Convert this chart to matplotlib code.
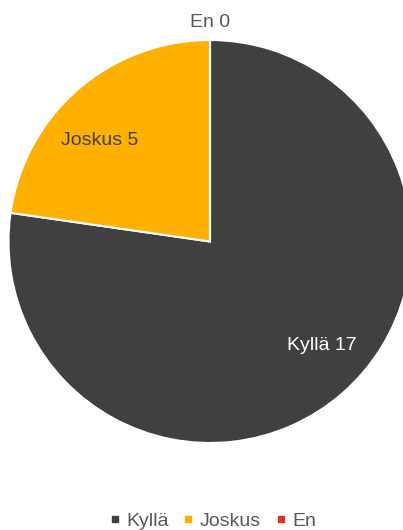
import matplotlib
matplotlib.use('Agg')
import matplotlib.pyplot as plt
from matplotlib.lines import Line2D

plt.rcParams['font.family'] = ['Liberation Sans', 'DejaVu Sans']

labels = ['Kyllä', 'Joskus', 'En']
values = [17, 5, 0]
colors = ['#404040', '#FFB000', '#E0302A']

fig = plt.figure(figsize=(4.03, 5.30), dpi=100)
ax = fig.add_axes([8.5 / 403, 87 / 530, 403 / 403, 403 / 530])

ax.pie(values, colors=colors, startangle=90, counterclock=False,
       wedgeprops=dict(edgecolor='white', linewidth=1.5))
ax.set_xlim(-1, 1)
ax.set_ylim(-1, 1)
ax.set_aspect('equal')
ax.axis('off')

# data label positions (in pie coords)
lab_pos = [(0.556, -0.514), (-0.546, 0.499), (0.0, 1.085)]
lab_col = ['white', '#404040', '#595959']
for name, v, (x, y), c in zip(labels, values, lab_pos, lab_col):
    ax.text(x, y, f'{name} {v}', ha='center', va='center', fontsize=14,
            color=c, clip_on=False)

handles = [Line2D([], [], marker='s', linestyle='', color=c, markersize=5)
           for c in colors]
fig.legend(handles, labels, loc='center',
           bbox_to_anchor=(213 / 403, 1 - 521 / 530),
           ncol=3, frameon=False, fontsize=14, labelcolor='#595959',
           handlelength=0.5, handletextpad=0.35, columnspacing=0.75)

fig.savefig('out.png', dpi=100)
